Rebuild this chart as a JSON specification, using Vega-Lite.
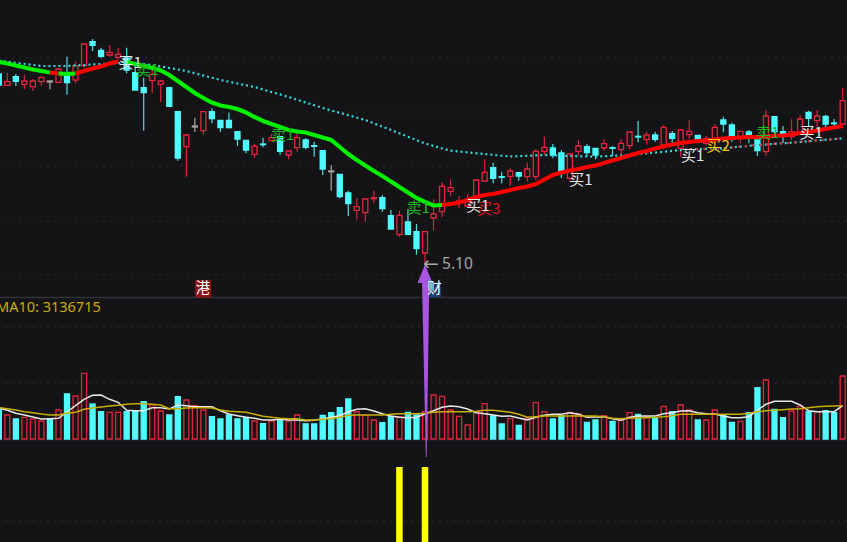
{
"$schema":"https://vega.github.io/schema/vega-lite/v6.json",
"width":847,"height":542,"padding":0,"autosize":{"type":"none"},
"background":"#141416",
"config":{"view":{"stroke":null},"axis":{"disable":true},"legend":{"disable":true}},
"datasets":{
"days":[
{"i":0,"o":7.0,"c":6.89,"h":7.0,"l":6.89,"kind":"D","vk":"D","vol":2.9,"ma5":3.07,"ma10":3.13},
{"i":1,"o":6.887,"c":6.923,"h":7.013,"l":6.887,"kind":"U","vk":"U","vol":2.4,"ma5":2.87,"ma10":3.03},
{"i":2,"o":6.973,"c":6.927,"h":7.0,"l":6.88,"kind":"D","vk":"D","vol":2.0,"ma5":2.57,"ma10":2.9},
{"i":3,"o":6.897,"c":6.93,"h":6.99,"l":6.847,"kind":"U","vk":"U","vol":2.17,"ma5":2.4,"ma10":2.73},
{"i":4,"o":6.873,"c":6.93,"h":6.95,"l":6.83,"kind":"U","vk":"U","vol":2.0,"ma5":2.2,"ma10":2.63},
{"i":5,"o":6.923,"c":6.967,"h":6.973,"l":6.883,"kind":"U","vk":"U","vol":1.8,"ma5":2.0,"ma10":2.5},
{"i":6,"o":6.93,"c":6.92,"h":6.93,"l":6.847,"kind":"N","vk":"D","vol":2.0,"ma5":2.03,"ma10":2.4},
{"i":7,"o":6.917,"c":7.05,"h":7.06,"l":6.917,"kind":"U","vk":"U","vol":2.9,"ma5":2.07,"ma10":2.4},
{"i":8,"o":6.98,"c":6.913,"h":7.173,"l":6.793,"kind":"D","vk":"D","vol":4.5,"ma5":2.7,"ma10":2.57},
{"i":9,"o":6.94,"c":7.083,"h":7.123,"l":6.907,"kind":"U","vk":"U","vol":4.3,"ma5":3.33,"ma10":2.67},
{"i":10,"o":7.083,"c":7.3,"h":7.307,"l":7.06,"kind":"U","vk":"U","vol":6.57,"ma5":3.97,"ma10":2.97},
{"i":11,"o":7.323,"c":7.287,"h":7.35,"l":7.23,"kind":"D","vk":"D","vol":3.5,"ma5":4.37,"ma10":3.1},
{"i":12,"o":7.237,"c":7.177,"h":7.263,"l":7.157,"kind":"D","vk":"D","vol":2.73,"ma5":4.4,"ma10":3.2},
{"i":13,"o":7.19,"c":7.217,"h":7.29,"l":7.173,"kind":"U","vk":"U","vol":2.67,"ma5":3.97,"ma10":3.3},
{"i":14,"o":7.167,"c":7.197,"h":7.257,"l":7.14,"kind":"U","vk":"U","vol":2.67,"ma5":3.67,"ma10":3.37},
{"i":15,"o":7.16,"c":7.04,"h":7.263,"l":7.007,"kind":"D","vk":"D","vol":2.73,"ma5":2.87,"ma10":3.47},
{"i":16,"o":7.013,"c":6.84,"h":7.11,"l":6.84,"kind":"D","vk":"D","vol":2.83,"ma5":2.83,"ma10":3.53},
{"i":17,"o":6.863,"c":6.813,"h":6.963,"l":6.433,"kind":"D","vk":"D","vol":3.73,"ma5":2.83,"ma10":3.53},
{"i":18,"o":6.933,"c":6.997,"h":7.073,"l":6.807,"kind":"U","vk":"U","vol":3.4,"ma5":3.13,"ma10":3.47},
{"i":19,"o":6.897,"c":6.93,"h":6.94,"l":6.72,"kind":"U","vk":"U","vol":2.8,"ma5":3.13,"ma10":3.4},
{"i":20,"o":6.863,"c":6.677,"h":6.873,"l":6.67,"kind":"D","vk":"D","vol":2.4,"ma5":3.0,"ma10":3.03},
{"i":21,"o":6.623,"c":6.16,"h":6.623,"l":6.133,"kind":"D","vk":"D","vol":4.23,"ma5":3.4,"ma10":3.03},
{"i":22,"o":6.273,"c":6.39,"h":6.397,"l":5.973,"kind":"U","vk":"U","vol":3.9,"ma5":3.33,"ma10":3.1},
{"i":23,"o":6.48,"c":6.47,"h":6.563,"l":6.42,"kind":"N","vk":"U","vol":3.33,"ma5":3.23,"ma10":3.13},
{"i":24,"o":6.433,"c":6.623,"h":6.63,"l":6.39,"kind":"U","vk":"U","vol":2.9,"ma5":3.23,"ma10":3.13},
{"i":25,"o":6.623,"c":6.553,"h":6.657,"l":6.507,"kind":"D","vk":"D","vol":2.23,"ma5":3.23,"ma10":3.1},
{"i":26,"o":6.537,"c":6.463,"h":6.537,"l":6.42,"kind":"D","vk":"D","vol":2.0,"ma5":2.83,"ma10":2.9},
{"i":27,"o":6.537,"c":6.463,"h":6.613,"l":6.457,"kind":"D","vk":"D","vol":2.4,"ma5":2.5,"ma10":2.77},
{"i":28,"o":6.423,"c":6.35,"h":6.423,"l":6.28,"kind":"D","vk":"D","vol":2.0,"ma5":2.33,"ma10":2.73},
{"i":29,"o":6.337,"c":6.24,"h":6.337,"l":6.207,"kind":"D","vk":"D","vol":2.17,"ma5":2.17,"ma10":2.67},
{"i":30,"o":6.197,"c":6.277,"h":6.297,"l":6.157,"kind":"U","vk":"U","vol":1.8,"ma5":2.07,"ma10":2.47},
{"i":31,"o":6.3,"c":6.293,"h":6.363,"l":6.267,"kind":"D","vk":"D","vol":1.53,"ma5":1.9,"ma10":2.27},
{"i":32,"o":6.333,"c":6.363,"h":6.4,"l":6.33,"kind":"U","vk":"U","vol":1.8,"ma5":1.9,"ma10":2.17},
{"i":33,"o":6.373,"c":6.227,"h":6.373,"l":6.193,"kind":"D","vk":"D","vol":2.0,"ma5":1.97,"ma10":2.07},
{"i":34,"o":6.19,"c":6.23,"h":6.235,"l":6.147,"kind":"U","vk":"U","vol":1.8,"ma5":1.9,"ma10":2.03},
{"i":35,"o":6.263,"c":6.363,"h":6.407,"l":6.223,"kind":"U","vk":"U","vol":2.4,"ma5":1.9,"ma10":2.03},
{"i":36,"o":6.34,"c":6.267,"h":6.357,"l":6.247,"kind":"D","vk":"D","vol":1.5,"ma5":1.83,"ma10":1.9},
{"i":37,"o":6.283,"c":6.277,"h":6.323,"l":6.173,"kind":"D","vk":"D","vol":1.5,"ma5":1.87,"ma10":1.9},
{"i":38,"o":6.233,"c":6.05,"h":6.233,"l":5.99,"kind":"D","vk":"D","vol":2.37,"ma5":2.03,"ma10":1.97},
{"i":39,"o":6.03,"c":6.023,"h":6.09,"l":5.833,"kind":"N","vk":"D","vol":2.63,"ma5":2.17,"ma10":2.03},
{"i":40,"o":5.997,"c":5.773,"h":5.997,"l":5.757,"kind":"D","vk":"D","vol":3.13,"ma5":2.33,"ma10":2.17},
{"i":41,"o":5.81,"c":5.703,"h":5.833,"l":5.58,"kind":"D","vk":"D","vol":4.0,"ma5":2.73,"ma10":2.37},
{"i":42,"o":5.637,"c":5.673,"h":5.757,"l":5.547,"kind":"U","vk":"U","vol":2.73,"ma5":2.97,"ma10":2.4},
{"i":43,"o":5.613,"c":5.75,"h":5.757,"l":5.523,"kind":"U","vk":"U","vol":2.37,"ma5":3.03,"ma10":2.4},
{"i":44,"o":5.753,"c":5.763,"h":5.833,"l":5.707,"kind":"U","vk":"U","vol":1.9,"ma5":2.8,"ma10":2.4},
{"i":45,"o":5.763,"c":5.653,"h":5.79,"l":5.623,"kind":"D","vk":"D","vol":1.63,"ma5":2.53,"ma10":2.4},
{"i":46,"o":5.583,"c":5.45,"h":5.64,"l":5.45,"kind":"D","vk":"D","vol":2.23,"ma5":2.3,"ma10":2.47},
{"i":47,"o":5.393,"c":5.587,"h":5.633,"l":5.373,"kind":"U","vk":"U","vol":2.23,"ma5":2.17,"ma10":2.53},
{"i":48,"o":5.52,"c":5.397,"h":5.647,"l":5.387,"kind":"D","vk":"D","vol":2.67,"ma5":2.13,"ma10":2.53},
{"i":49,"o":5.423,"c":5.253,"h":5.5,"l":5.193,"kind":"D","vk":"D","vol":2.4,"ma5":2.17,"ma10":2.53},
{"i":50,"o":5.21,"c":5.423,"h":5.423,"l":5.1,"kind":"U","vk":"U","vol":2.73,"ma5":2.5,"ma10":2.57},
{"i":51,"o":5.56,"c":5.6,"h":5.747,"l":5.433,"kind":"U","vk":"U","vol":4.4,"ma5":2.83,"ma10":2.67},
{"i":52,"o":5.623,"c":5.877,"h":5.917,"l":5.57,"kind":"U","vk":"U","vol":4.27,"ma5":3.17,"ma10":2.73},
{"i":53,"o":5.827,"c":5.863,"h":5.947,"l":5.78,"kind":"U","vk":"U","vol":2.9,"ma5":3.3,"ma10":2.73},
{"i":54,"o":5.72,"c":5.73,"h":5.78,"l":5.66,"kind":"U","vk":"U","vol":2.27,"ma5":3.23,"ma10":2.73},
{"i":55,"o":5.68,"c":5.74,"h":5.8,"l":5.67,"kind":"U","vk":"U","vol":1.4,"ma5":3.0,"ma10":2.73},
{"i":56,"o":5.757,"c":5.94,"h":5.95,"l":5.74,"kind":"U","vk":"U","vol":2.73,"ma5":2.63,"ma10":2.77},
{"i":57,"o":5.93,"c":6.017,"h":6.147,"l":5.923,"kind":"U","vk":"U","vol":3.53,"ma5":2.53,"ma10":2.87},
{"i":58,"o":6.063,"c":5.957,"h":6.113,"l":5.907,"kind":"D","vk":"D","vol":2.3,"ma5":2.4,"ma10":2.87},
{"i":59,"o":5.973,"c":5.967,"h":6.023,"l":5.907,"kind":"D","vk":"D","vol":1.5,"ma5":2.27,"ma10":2.77},
{"i":60,"o":5.977,"c":6.03,"h":6.057,"l":5.883,"kind":"U","vk":"U","vol":2.03,"ma5":2.3,"ma10":2.67},
{"i":61,"o":6.013,"c":5.98,"h":6.013,"l":5.933,"kind":"D","vk":"D","vol":1.37,"ma5":2.1,"ma10":2.47},
{"i":62,"o":5.973,"c":6.05,"h":6.113,"l":5.923,"kind":"U","vk":"U","vol":2.07,"ma5":1.9,"ma10":2.17},
{"i":63,"o":5.973,"c":6.227,"h":6.25,"l":5.94,"kind":"U","vk":"U","vol":3.63,"ma5":2.17,"ma10":2.23},
{"i":64,"o":6.227,"c":6.267,"h":6.373,"l":6.19,"kind":"U","vk":"U","vol":2.73,"ma5":2.37,"ma10":2.3},
{"i":65,"o":6.26,"c":6.19,"h":6.3,"l":6.157,"kind":"D","vk":"D","vol":2.0,"ma5":2.47,"ma10":2.3},
{"i":66,"o":6.21,"c":6.02,"h":6.24,"l":5.96,"kind":"D","vk":"D","vol":2.3,"ma5":2.47,"ma10":2.3},
{"i":67,"o":5.957,"c":6.2,"h":6.2,"l":5.923,"kind":"U","vk":"U","vol":2.67,"ma5":2.63,"ma10":2.3},
{"i":68,"o":6.227,"c":6.28,"h":6.34,"l":6.18,"kind":"U","vk":"U","vol":2.5,"ma5":2.47,"ma10":2.3},
{"i":69,"o":6.273,"c":6.213,"h":6.297,"l":6.18,"kind":"D","vk":"D","vol":1.67,"ma5":2.17,"ma10":2.3},
{"i":70,"o":6.257,"c":6.19,"h":6.257,"l":6.147,"kind":"D","vk":"D","vol":1.9,"ma5":2.2,"ma10":2.3},
{"i":71,"o":6.26,"c":6.303,"h":6.347,"l":6.23,"kind":"U","vk":"U","vol":2.33,"ma5":2.23,"ma10":2.23},
{"i":72,"o":6.263,"c":6.257,"h":6.28,"l":6.18,"kind":"D","vk":"D","vol":1.77,"ma5":2.03,"ma10":2.07},
{"i":73,"o":6.243,"c":6.307,"h":6.347,"l":6.2,"kind":"U","vk":"U","vol":1.9,"ma5":1.87,"ma10":2.03},
{"i":74,"o":6.283,"c":6.42,"h":6.42,"l":6.247,"kind":"U","vk":"U","vol":2.63,"ma5":2.17,"ma10":2.07},
{"i":75,"o":6.377,"c":6.37,"h":6.53,"l":6.317,"kind":"D","vk":"D","vol":2.47,"ma5":2.3,"ma10":2.1},
{"i":76,"o":6.343,"c":6.39,"h":6.423,"l":6.293,"kind":"U","vk":"U","vol":2.23,"ma5":2.3,"ma10":2.13},
{"i":77,"o":6.39,"c":6.347,"h":6.423,"l":6.323,"kind":"D","vk":"D","vol":2.03,"ma5":2.3,"ma10":2.17},
{"i":78,"o":6.29,"c":6.467,"h":6.49,"l":6.257,"kind":"U","vk":"U","vol":3.27,"ma5":2.53,"ma10":2.23},
{"i":79,"o":6.403,"c":6.357,"h":6.43,"l":6.29,"kind":"D","vk":"D","vol":2.73,"ma5":2.63,"ma10":2.33},
{"i":80,"o":6.257,"c":6.44,"h":6.447,"l":6.17,"kind":"U","vk":"U","vol":3.4,"ma5":2.8,"ma10":2.47},
{"i":81,"o":6.393,"c":6.427,"h":6.54,"l":6.35,"kind":"U","vk":"U","vol":2.9,"ma5":2.83,"ma10":2.47},
{"i":82,"o":6.387,"c":6.34,"h":6.387,"l":6.307,"kind":"D","vk":"D","vol":1.9,"ma5":2.63,"ma10":2.47},
{"i":83,"o":6.307,"c":6.357,"h":6.38,"l":6.29,"kind":"U","vk":"U","vol":1.9,"ma5":2.53,"ma10":2.47},
{"i":84,"o":6.357,"c":6.467,"h":6.5,"l":6.307,"kind":"U","vk":"U","vol":2.9,"ma5":2.5,"ma10":2.47},
{"i":85,"o":6.54,"c":6.5,"h":6.573,"l":6.417,"kind":"D","vk":"D","vol":2.4,"ma5":2.3,"ma10":2.47},
{"i":86,"o":6.49,"c":6.373,"h":6.513,"l":6.323,"kind":"D","vk":"D","vol":1.67,"ma5":2.13,"ma10":2.47},
{"i":87,"o":6.357,"c":6.427,"h":6.427,"l":6.307,"kind":"U","vk":"U","vol":1.77,"ma5":2.13,"ma10":2.47},
{"i":88,"o":6.42,"c":6.39,"h":6.44,"l":6.307,"kind":"D","vk":"D","vol":2.63,"ma5":2.23,"ma10":2.57},
{"i":89,"o":6.34,"c":6.233,"h":6.357,"l":6.18,"kind":"D","vk":"D","vol":5.13,"ma5":2.9,"ma10":2.73},
{"i":90,"o":6.223,"c":6.58,"h":6.64,"l":6.18,"kind":"U","vk":"U","vol":5.9,"ma5":3.47,"ma10":2.83},
{"i":91,"o":6.573,"c":6.423,"h":6.58,"l":6.39,"kind":"D","vk":"D","vol":2.97,"ma5":3.77,"ma10":2.87},
{"i":92,"o":6.423,"c":6.39,"h":6.48,"l":6.307,"kind":"D","vk":"D","vol":2.13,"ma5":3.77,"ma10":2.93},
{"i":93,"o":6.373,"c":6.423,"h":6.547,"l":6.34,"kind":"U","vk":"U","vol":2.8,"ma5":3.77,"ma10":3.0},
{"i":94,"o":6.407,"c":6.55,"h":6.59,"l":6.39,"kind":"U","vk":"U","vol":3.23,"ma5":3.4,"ma10":3.03},
{"i":95,"o":6.617,"c":6.557,"h":6.633,"l":6.473,"kind":"D","vk":"D","vol":2.73,"ma5":2.83,"ma10":3.13},
{"i":96,"o":6.533,"c":6.58,"h":6.64,"l":6.473,"kind":"U","vk":"U","vol":2.73,"ma5":2.73,"ma10":3.23},
{"i":97,"o":6.577,"c":6.5,"h":6.59,"l":6.457,"kind":"D","vk":"D","vol":2.83,"ma5":2.73,"ma10":3.27},
{"i":98,"o":6.51,"c":6.503,"h":6.55,"l":6.473,"kind":"D","vk":"D","vol":2.63,"ma5":2.73,"ma10":3.3},
{"i":99,"o":6.5,"c":6.733,"h":6.857,"l":6.49,"kind":"U","vk":"U","vol":6.3,"ma5":3.33,"ma10":3.33}
],
"trend":[
{"i":0,"p":7.12,"seg":1,"dir":"down"},{"i":1,"p":7.105,"seg":1,"dir":"down"},{"i":2,"p":7.085,"seg":1,"dir":"down"},{"i":3,"p":7.065,"seg":1,"dir":"down"},{"i":4,"p":7.045,"seg":1,"dir":"down"},{"i":5,"p":7.03,"seg":1,"dir":"down"},{"i":6,"p":7.015,"seg":1,"dir":"down"},
{"i":6,"p":7.015,"seg":2,"dir":"up"},{"i":7,"p":7.005,"seg":2,"dir":"up"},
{"i":7,"p":7.005,"seg":3,"dir":"down"},{"i":8,"p":7.0,"seg":3,"dir":"down"},{"i":9,"p":7.005,"seg":3,"dir":"down"},
{"i":9,"p":7.005,"seg":4,"dir":"up"},{"i":10,"p":7.03,"seg":4,"dir":"up"},{"i":11,"p":7.055,"seg":4,"dir":"up"},{"i":12,"p":7.075,"seg":4,"dir":"up"},{"i":13,"p":7.105,"seg":4,"dir":"up"},{"i":14,"p":7.125,"seg":4,"dir":"up"},
{"i":15,"p":7.12,"seg":5,"dir":"down"},{"i":16,"p":7.1,"seg":5,"dir":"down"},{"i":17,"p":7.08,"seg":5,"dir":"down"},{"i":18,"p":7.06,"seg":5,"dir":"down"},{"i":19,"p":7.035,"seg":5,"dir":"down"},{"i":20,"p":6.99,"seg":5,"dir":"down"},{"i":21,"p":6.93,"seg":5,"dir":"down"},{"i":22,"p":6.87,"seg":5,"dir":"down"},{"i":23,"p":6.81,"seg":5,"dir":"down"},{"i":24,"p":6.76,"seg":5,"dir":"down"},{"i":25,"p":6.715,"seg":5,"dir":"down"},{"i":26,"p":6.685,"seg":5,"dir":"down"},{"i":27,"p":6.67,"seg":5,"dir":"down"},{"i":28,"p":6.65,"seg":5,"dir":"down"},{"i":29,"p":6.615,"seg":5,"dir":"down"},{"i":30,"p":6.57,"seg":5,"dir":"down"},{"i":31,"p":6.53,"seg":5,"dir":"down"},{"i":32,"p":6.5,"seg":5,"dir":"down"},{"i":33,"p":6.47,"seg":5,"dir":"down"},{"i":34,"p":6.44,"seg":5,"dir":"down"},{"i":35,"p":6.425,"seg":5,"dir":"down"},{"i":36,"p":6.415,"seg":5,"dir":"down"},{"i":37,"p":6.39,"seg":5,"dir":"down"},{"i":38,"p":6.365,"seg":5,"dir":"down"},{"i":39,"p":6.34,"seg":5,"dir":"down"},{"i":40,"p":6.27,"seg":5,"dir":"down"},{"i":41,"p":6.2,"seg":5,"dir":"down"},{"i":42,"p":6.14,"seg":5,"dir":"down"},{"i":43,"p":6.085,"seg":5,"dir":"down"},{"i":44,"p":6.03,"seg":5,"dir":"down"},{"i":45,"p":5.98,"seg":5,"dir":"down"},{"i":46,"p":5.925,"seg":5,"dir":"down"},{"i":47,"p":5.87,"seg":5,"dir":"down"},{"i":48,"p":5.815,"seg":5,"dir":"down"},{"i":49,"p":5.76,"seg":5,"dir":"down"},{"i":50,"p":5.72,"seg":5,"dir":"down"},{"i":51,"p":5.685,"seg":5,"dir":"down"},{"i":52,"p":5.69,"seg":5,"dir":"down"},
{"i":52,"p":5.69,"seg":6,"dir":"up"},{"i":53,"p":5.7,"seg":6,"dir":"up"},{"i":54,"p":5.715,"seg":6,"dir":"up"},{"i":55,"p":5.74,"seg":6,"dir":"up"},{"i":56,"p":5.77,"seg":6,"dir":"up"},{"i":57,"p":5.79,"seg":6,"dir":"up"},{"i":58,"p":5.8,"seg":6,"dir":"up"},{"i":59,"p":5.82,"seg":6,"dir":"up"},{"i":60,"p":5.84,"seg":6,"dir":"up"},{"i":61,"p":5.86,"seg":6,"dir":"up"},{"i":62,"p":5.875,"seg":6,"dir":"up"},{"i":63,"p":5.9,"seg":6,"dir":"up"},{"i":64,"p":5.945,"seg":6,"dir":"up"},{"i":65,"p":5.99,"seg":6,"dir":"up"},{"i":66,"p":6.015,"seg":6,"dir":"up"},{"i":67,"p":6.035,"seg":6,"dir":"up"},{"i":68,"p":6.05,"seg":6,"dir":"up"},{"i":69,"p":6.07,"seg":6,"dir":"up"},{"i":70,"p":6.085,"seg":6,"dir":"up"},{"i":71,"p":6.11,"seg":6,"dir":"up"},{"i":72,"p":6.135,"seg":6,"dir":"up"},{"i":73,"p":6.16,"seg":6,"dir":"up"},{"i":74,"p":6.185,"seg":6,"dir":"up"},{"i":75,"p":6.21,"seg":6,"dir":"up"},{"i":76,"p":6.23,"seg":6,"dir":"up"},{"i":77,"p":6.255,"seg":6,"dir":"up"},{"i":78,"p":6.275,"seg":6,"dir":"up"},{"i":79,"p":6.295,"seg":6,"dir":"up"},{"i":80,"p":6.31,"seg":6,"dir":"up"},{"i":81,"p":6.32,"seg":6,"dir":"up"},{"i":82,"p":6.33,"seg":6,"dir":"up"},{"i":83,"p":6.335,"seg":6,"dir":"up"},{"i":84,"p":6.345,"seg":6,"dir":"up"},{"i":85,"p":6.355,"seg":6,"dir":"up"},{"i":86,"p":6.36,"seg":6,"dir":"up"},{"i":87,"p":6.365,"seg":6,"dir":"up"},{"i":88,"p":6.37,"seg":6,"dir":"up"},{"i":89,"p":6.37,"seg":6,"dir":"up"},{"i":90,"p":6.375,"seg":6,"dir":"up"},{"i":91,"p":6.38,"seg":6,"dir":"up"},{"i":92,"p":6.385,"seg":6,"dir":"up"},{"i":93,"p":6.395,"seg":6,"dir":"up"},{"i":94,"p":6.41,"seg":6,"dir":"up"},{"i":95,"p":6.42,"seg":6,"dir":"up"},{"i":96,"p":6.435,"seg":6,"dir":"up"},{"i":97,"p":6.45,"seg":6,"dir":"up"},{"i":98,"p":6.465,"seg":6,"dir":"up"},{"i":99,"p":6.48,"seg":6,"dir":"up"}
],
"ma60":[
{"i":0,"p":7.135},{"i":1,"p":7.123},{"i":5,"p":7.08},{"i":8,"p":7.08},{"i":12,"p":7.1},{"i":15,"p":7.113},{"i":18,"p":7.09},{"i":22,"p":7.03},{"i":26,"p":6.94},{"i":30,"p":6.87},{"i":34,"p":6.77},{"i":38,"p":6.66},{"i":43,"p":6.54},{"i":47,"p":6.407},{"i":50,"p":6.305},{"i":53,"p":6.233},{"i":57,"p":6.2},{"i":60,"p":6.175},{"i":64,"p":6.19},{"i":67,"p":6.18},{"i":70,"p":6.173},{"i":74,"p":6.19},{"i":78,"p":6.223},{"i":81,"p":6.247},{"i":85,"p":6.257},{"i":89,"p":6.29},{"i":93,"p":6.313},{"i":99,"p":6.357}
],
"grid":[{"p":7.163},{"p":6.62},{"p":6.08},{"p":5.53},{"p":4.99},{"p":4.47},{"p":3.91},{"p":2.53}],
"signals":[{"i":47,"s":1},{"i":50,"s":1}],
"labels":[
{"i":15.4,"p":7.11,"t":"买1","k":"w"},{"i":17.4,"p":7.04,"t":"卖1","k":"g"},{"i":33.3,"p":6.39,"t":"卖1","k":"g"},{"i":49.2,"p":5.66,"t":"卖1","k":"g"},{"i":57.5,"p":5.65,"t":"买3","k":"r"},{"i":56.2,"p":5.68,"t":"买1","k":"w"},{"i":68.3,"p":5.94,"t":"买1","k":"w"},{"i":81.4,"p":6.18,"t":"买1","k":"w"},{"i":84.4,"p":6.28,"t":"买2","k":"y"},{"i":90.2,"p":6.41,"t":"卖1","k":"g"},{"i":95.3,"p":6.41,"t":"买1","k":"w"}
],
"arrow":[
{"part":"head","p":5.09,"xl":49.98,"xr":50.02},{"part":"head","p":4.91,"xl":49.12,"xr":50.88},
{"part":"shaft","p":4.91,"xl":49.65,"xr":50.5},{"part":"shaft","p":3.17,"xl":50.1,"xr":50.2}
],
"badges":[
{"a":23.02,"b":24.9,"top":4.94,"bot":4.765,"t":"港","k":"hk","m":23.96,"mp":4.85},
{"a":50.47,"b":51.88,"top":4.92,"bot":4.765,"t":"财","k":"fin","m":51.1,"mp":4.85}
]
},
"resolve":{"scale":{"y":"independent","color":"independent","fill":"independent","stroke":"independent"}},
"layer":[
{"data":{"name":"grid"},"mark":{"type":"rule","color":"#2c2c2e","strokeWidth":1,"strokeDash":[2,5]},
 "encoding":{"y":{"field":"p","type":"quantitative","scale":{"domain":[2.32,7.74],"nice":false,"zero":false}}}},
{"data":{"values":[{"p":4.765,"k":"a"},{"p":3.34,"k":"b"}]},"mark":{"type":"rule","strokeWidth":1.5},
 "encoding":{"y":{"field":"p","type":"quantitative","scale":{"domain":[2.32,7.74],"nice":false,"zero":false}},
 "color":{"field":"k","type":"nominal","scale":{"domain":["a","b"],"range":["#2e3136","#1c232b"]}}}},
{"data":{"name":"days"},"mark":{"type":"rule","strokeWidth":1.2,"clip":true},
 "encoding":{"x":{"field":"i","type":"quantitative","scale":{"domain":[0.141,99.507],"nice":false,"zero":false,"padding":0}},
 "y":{"field":"h","type":"quantitative","scale":{"domain":[2.32,7.74],"nice":false,"zero":false}},"y2":{"field":"l"},
 "color":{"field":"kind","type":"nominal","scale":{"domain":["U","D","N"],"range":["#d8233f","#4fdde0","#a8a8a8"]}}}},
{"data":{"name":"days"},"mark":{"type":"bar","orient":"vertical","size":5,"strokeWidth":1.3,"clip":true},
 "encoding":{"x":{"field":"i","type":"quantitative","scale":{"domain":[0.141,99.507],"nice":false,"zero":false,"padding":0}},
 "y":{"field":"o","type":"quantitative","scale":{"domain":[2.32,7.74],"nice":false,"zero":false}},"y2":{"field":"c"},
 "fill":{"field":"kind","type":"nominal","scale":{"domain":["U","D","N"],"range":["#141416","#4ffbff","#a8a8a8"]}},
 "stroke":{"field":"kind","type":"nominal","scale":{"domain":["U","D","N"],"range":["#e0263f","#4ffbff","#a8a8a8"]}}}},
{"data":{"name":"ma60"},"mark":{"type":"line","strokeWidth":2.2,"strokeDash":[2,3],"color":"#2fdcdf","clip":true},
 "encoding":{"x":{"field":"i","type":"quantitative","scale":{"domain":[0.141,99.507],"nice":false,"zero":false,"padding":0}},
 "y":{"field":"p","type":"quantitative","scale":{"domain":[2.32,7.74],"nice":false,"zero":false}}}},
{"data":{"name":"ma60"},"transform":[{"filter":"datum.i>=81"}],"mark":{"type":"line","strokeWidth":2.2,"strokeDash":[2,5],"color":"#d0303f","clip":true},
 "encoding":{"x":{"field":"i","type":"quantitative","scale":{"domain":[0.141,99.507],"nice":false,"zero":false,"padding":0}},
 "y":{"field":"p","type":"quantitative","scale":{"domain":[2.32,7.74],"nice":false,"zero":false}}}},
{"data":{"name":"trend"},"mark":{"type":"line","strokeWidth":4.2,"clip":true},
 "encoding":{"x":{"field":"i","type":"quantitative","scale":{"domain":[0.141,99.507],"nice":false,"zero":false,"padding":0}},
 "y":{"field":"p","type":"quantitative","scale":{"domain":[2.32,7.74],"nice":false,"zero":false}},
 "detail":{"field":"seg","type":"nominal"},
 "color":{"field":"dir","type":"nominal","scale":{"domain":["up","down"],"range":["#ff0000","#00f000"]}}}},
{"data":{"name":"labels"},"mark":{"type":"text","font":"Noto Sans CJK SC","fontSize":15,"align":"center","baseline":"middle"},
 "encoding":{"x":{"field":"i","type":"quantitative","scale":{"domain":[0.141,99.507],"nice":false,"zero":false,"padding":0}},
 "y":{"field":"p","type":"quantitative","scale":{"domain":[2.32,7.74],"nice":false,"zero":false}},
 "text":{"field":"t"},
 "color":{"field":"k","type":"nominal","scale":{"domain":["w","g","r","y"],"range":["#e6e6e6","#1db81d","#e01212","#eecb00"]}}}},
{"data":{"name":"days"},"mark":{"type":"bar","orient":"vertical","size":5,"strokeWidth":1.3,"clip":true},
 "encoding":{"x":{"field":"i","type":"quantitative","scale":{"domain":[0.141,99.507],"nice":false,"zero":false,"padding":0}},
 "y":{"field":"vol","type":"quantitative","stack":null,"scale":{"domain":[-10.3,43.9],"nice":false,"zero":false}},"y2":{"datum":0},
 "fill":{"field":"vk","type":"nominal","scale":{"domain":["U","D"],"range":["#141416","#4ffbff"]}},
 "stroke":{"field":"vk","type":"nominal","scale":{"domain":["U","D"],"range":["#e0263f","#4ffbff"]}}}},
{"data":{"name":"days"},"mark":{"type":"line","strokeWidth":1.5,"color":"#e8e8e8","clip":true},
 "encoding":{"x":{"field":"i","type":"quantitative","scale":{"domain":[0.141,99.507],"nice":false,"zero":false,"padding":0}},
 "y":{"field":"ma5","type":"quantitative","scale":{"domain":[-10.3,43.9],"nice":false,"zero":false}}}},
{"data":{"name":"days"},"mark":{"type":"line","strokeWidth":1.5,"color":"#c8ae00","clip":true},
 "encoding":{"x":{"field":"i","type":"quantitative","scale":{"domain":[0.141,99.507],"nice":false,"zero":false,"padding":0}},
 "y":{"field":"ma10","type":"quantitative","scale":{"domain":[-10.3,43.9],"nice":false,"zero":false}}}},
{"data":{"name":"signals"},"mark":{"type":"bar","orient":"vertical","size":6.5,"color":"#ffff00"},
 "encoding":{"x":{"field":"i","type":"quantitative","scale":{"domain":[0.141,99.507],"nice":false,"zero":false,"padding":0}},
 "y":{"field":"s","type":"quantitative","stack":null,"scale":{"domain":[0,7.227],"nice":false,"zero":false}},"y2":{"datum":0}}},
{"data":{"name":"badges"},"mark":{"type":"rect"},
 "encoding":{"x":{"field":"a","type":"quantitative","scale":{"domain":[0.141,99.507],"nice":false,"zero":false,"padding":0}},"x2":{"field":"b"},
 "y":{"field":"top","type":"quantitative","scale":{"domain":[2.32,7.74],"nice":false,"zero":false}},"y2":{"field":"bot"},
 "color":{"field":"k","type":"nominal","scale":{"domain":["hk","fin"],"range":["#8a1015","#1b3f6e"]}}}},
{"data":{"name":"arrow"},"mark":{"type":"area","orient":"horizontal","color":"#a855e0"},
 "encoding":{"y":{"field":"p","type":"quantitative","scale":{"domain":[2.32,7.74],"nice":false,"zero":false}},
 "x":{"field":"xl","type":"quantitative","stack":null,"scale":{"domain":[0.141,99.507],"nice":false,"zero":false,"padding":0}},"x2":{"field":"xr"},
 "detail":{"field":"part","type":"nominal"}}},
{"data":{"name":"badges"},"mark":{"type":"text","font":"Noto Sans CJK SC","fontSize":14.5,"color":"#ffffff","align":"center","baseline":"middle"},
 "encoding":{"x":{"field":"m","type":"quantitative","scale":{"domain":[0.141,99.507],"nice":false,"zero":false,"padding":0}},
 "y":{"field":"mp","type":"quantitative","scale":{"domain":[2.32,7.74],"nice":false,"zero":false}},"text":{"field":"t"}}},
{"data":{"values":[{"i":49.77,"p":5.1,"t":"←"}]},"mark":{"type":"text","font":"DejaVu Sans","fontSize":19,"color":"#a6a6a6","align":"left","baseline":"middle"},
 "encoding":{"x":{"field":"i","type":"quantitative","scale":{"domain":[0.141,99.507],"nice":false,"zero":false,"padding":0}},
 "y":{"field":"p","type":"quantitative","scale":{"domain":[2.32,7.74],"nice":false,"zero":false}},"text":{"field":"t"}}},
{"data":{"values":[{"i":52,"p":5.1,"t":"5.10"}]},"mark":{"type":"text","font":"Noto Sans","fontSize":15.5,"color":"#a6a6a6","align":"left","baseline":"middle"},
 "encoding":{"x":{"field":"i","type":"quantitative","scale":{"domain":[0.141,99.507],"nice":false,"zero":false,"padding":0}},
 "y":{"field":"p","type":"quantitative","scale":{"domain":[2.32,7.74],"nice":false,"zero":false}},"text":{"field":"t"}}},
{"data":{"values":[{"i":0.141,"p":4.663,"t":"MA10: 3136715"}]},"mark":{"type":"text","font":"Noto Sans","fontSize":14.5,"color":"#c8ae00","align":"left","baseline":"middle","dx":-4},
 "encoding":{"x":{"field":"i","type":"quantitative","scale":{"domain":[0.141,99.507],"nice":false,"zero":false,"padding":0}},
 "y":{"field":"p","type":"quantitative","scale":{"domain":[2.32,7.74],"nice":false,"zero":false}},"text":{"field":"t"}}}
]
}
